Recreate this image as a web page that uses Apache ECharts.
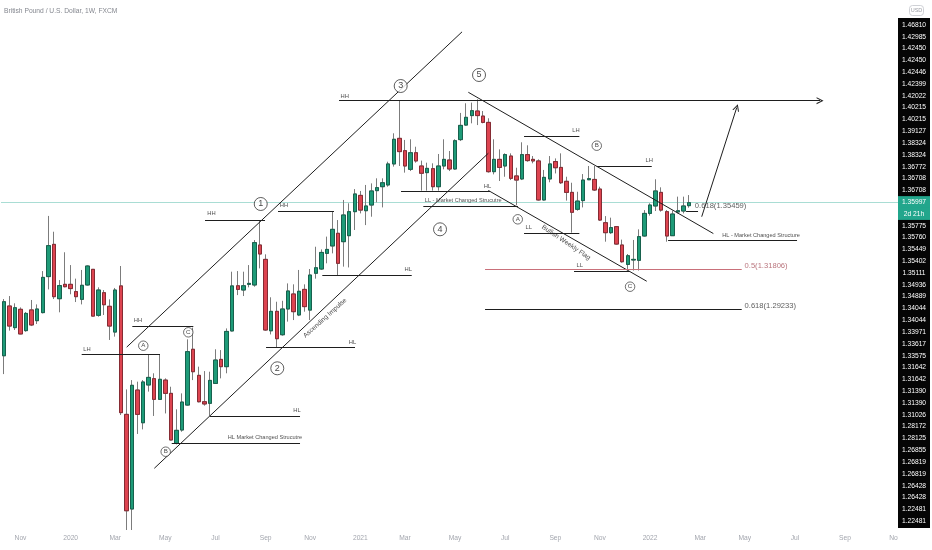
<!DOCTYPE html>
<html><head><meta charset="utf-8">
<script src="https://cdn.jsdelivr.net/npm/echarts@6/dist/echarts.min.js"></script>
<style>html,body{margin:0;padding:0;background:#fff}#c{width:932px;height:550px}</style>
</head><body><div id="c"></div>
<script>
// ---- candle data (weekly GBP/USD) ----
const openP = [1.2631,1.2946,1.2809,1.2925,1.2790,1.2921,1.2853,1.2904,1.3132,1.3336,1.2992,1.3083,1.3083,1.3037,1.2988,1.3079,1.3178,1.2887,1.3030,1.2944,1.2781,1.3073,1.2260,1.1661,1.2414,1.2207,1.2446,1.2486,1.2355,1.2477,1.2393,1.2077,1.2161,1.2319,1.2672,1.2507,1.2340,1.2330,1.2456,1.2608,1.2562,1.2788,1.3074,1.3047,1.3083,1.3079,1.3332,1.3241,1.2789,1.2912,1.2764,1.2927,1.3022,1.2889,1.3051,1.2920,1.3153,1.3180,1.3279,1.3326,1.3406,1.3353,1.3391,1.3543,1.3646,1.3549,1.3585,1.3676,1.3701,1.3712,1.3845,1.4007,1.3929,1.3811,1.3916,1.3832,1.3790,1.3815,1.3701,1.3832,1.3870,1.3813,1.3999,1.4091,1.4151,1.4180,1.4148,1.4108,1.3796,1.3874,1.3832,1.3895,1.3769,1.3750,1.3904,1.3874,1.3864,1.3617,1.3750,1.3860,1.3823,1.3735,1.3665,1.3558,1.3613,1.3745,1.3747,1.3686,1.3473,1.3410,1.3448,1.3332,1.3209,1.3237,1.3235,1.3389,1.3532,1.3579,1.3665,1.3543,1.3391,1.3541,1.3547,1.3581];
const closeP = [1.2973,1.2819,1.2935,1.2769,1.2899,1.2826,1.2927,1.3127,1.3328,1.3005,1.3075,1.3068,1.3056,1.3005,1.3077,1.3199,1.2882,1.3047,1.2954,1.2819,1.3047,1.2271,1.1650,1.2444,1.2260,1.2465,1.2494,1.2355,1.2482,1.2393,1.2098,1.2159,1.2338,1.2657,1.2530,1.2340,1.2326,1.2475,1.2604,1.2562,1.2785,1.3073,1.3051,1.3074,1.3089,1.3347,1.3275,1.2794,1.2912,1.2739,1.2927,1.3041,1.2910,1.3039,1.2942,1.3142,1.3188,1.3285,1.3304,1.3431,1.3216,1.3522,1.3543,1.3655,1.3553,1.3579,1.3674,1.3695,1.3726,1.3845,1.4001,1.3923,1.3832,1.3916,1.3864,1.3786,1.3817,1.3701,1.3832,1.3874,1.3813,1.3992,1.4089,1.4140,1.4182,1.4151,1.4108,1.3796,1.3874,1.3823,1.3904,1.3754,1.3743,1.3904,1.3866,1.3864,1.3617,1.3760,1.3845,1.3821,1.3726,1.3665,1.3539,1.3610,1.3743,1.3752,1.3680,1.3490,1.3410,1.3442,1.3338,1.3226,1.3264,1.3241,1.3385,1.3532,1.3585,1.3674,1.3553,1.3389,1.3528,1.3549,1.3579,1.3600];
const lowP = [1.2515,1.2790,1.2794,1.2767,1.2783,1.2819,1.2832,1.2899,1.3051,1.2990,1.2906,1.3064,1.3020,1.2971,1.2956,1.3075,1.2880,1.2878,1.2889,1.2731,1.2752,1.2256,1.1409,1.1466,1.2136,1.2165,1.2404,1.2250,1.2351,1.2266,1.2096,1.2070,1.2150,1.2315,1.2477,1.2336,1.2315,1.2250,1.2454,1.2488,1.2520,1.2785,1.3015,1.3009,1.3064,1.3068,1.3184,1.2789,1.2766,1.2682,1.2758,1.2847,1.2857,1.2882,1.2910,1.2857,1.3119,1.3174,1.3216,1.3279,1.3142,1.3195,1.3190,1.3427,1.3532,1.3458,1.3511,1.3602,1.3570,1.3701,1.3828,1.3832,1.3790,1.3800,1.3853,1.3676,1.3676,1.3676,1.3676,1.3811,1.3800,1.3809,1.3990,1.4087,1.4102,1.4091,1.4102,1.3790,1.3779,1.3737,1.3764,1.3743,1.3583,1.3743,1.3859,1.3849,1.3613,1.3613,1.3729,1.3785,1.3718,1.3613,1.3410,1.3549,1.3570,1.3743,1.3674,1.3484,1.3353,1.3402,1.3334,1.3220,1.3174,1.3170,1.3170,1.3385,1.3518,1.3547,1.3543,1.3353,1.3389,1.3532,1.3532,1.3568];
const highP = [1.2990,1.3009,1.2963,1.2937,1.2908,1.2984,1.2956,1.3167,1.3516,1.3416,1.3110,1.3286,1.3205,1.3119,1.3174,1.3203,1.3180,1.3064,1.3047,1.2988,1.3060,1.3199,1.2418,1.2477,1.2467,1.2477,1.2642,1.2520,1.2642,1.2488,1.2435,1.2292,1.2393,1.2735,1.2809,1.2562,1.2534,1.2530,1.2672,1.2667,1.2804,1.3163,1.3167,1.3163,1.3205,1.3363,1.3490,1.3273,1.3001,1.2973,1.2979,1.3089,1.3083,1.3174,1.3083,1.3180,1.3321,1.3304,1.3385,1.3543,1.3490,1.3617,1.3596,1.3686,1.3674,1.3712,1.3722,1.3754,1.3754,1.3859,1.4039,1.4246,1.3997,1.4001,1.3954,1.3866,1.3853,1.3849,1.3908,1.4001,1.3927,1.4001,1.4168,1.4229,1.4233,1.4254,1.4180,1.4134,1.4001,1.3937,1.3912,1.3912,1.3821,1.3982,1.3963,1.3895,1.3874,1.3807,1.3895,1.3880,1.3912,1.3764,1.3726,1.3669,1.3781,1.3832,1.3832,1.3701,1.3515,1.3505,1.3452,1.3366,1.3275,1.3364,1.3431,1.3553,1.3596,1.3748,1.3697,1.3553,1.3549,1.3638,1.3638,1.3648];
const lastPrice = 1.35997;
const firstWeek = '2019-10-14';
const weekCount = 161;

// ---- right price-scale tags (drawing prices, top to bottom) ----
const axisTags = ['1.46810','1.42985','1.42450','1.42450','1.42446','1.42399','1.42022','1.40215','1.40215','1.39127','1.38324','1.38324','1.36772','1.36708','1.36708','1.35997','2d 21h','1.35775','1.35760','1.35449','1.35402','1.35111','1.34936','1.34889','1.34044','1.34044','1.33971','1.33617','1.33575','1.31642','1.31642','1.31390','1.31390','1.31026','1.28172','1.28125','1.26855','1.26819','1.26819','1.26428','1.26428','1.22481','1.22481'];

// ---- drawings, in (bar index, price) ----
const levelLines = [
  [13.98, 28.04, 1.26428], [23.07, 34.02, 1.28150], [37.02, 53.17, 1.22481],
  [30.14, 53.17, 1.20744], [36.12, 46.89, 1.34912], [49.22, 59.27, 1.35425],
  [47.07, 63.04, 1.26819], [57.17, 73.22, 1.31390], [71.30, 87.27, 1.36708],
  [75.30, 92.30, 1.35775], [93.38, 103.31, 1.40215], [106.43, 116.30, 1.38324],
  [93.38, 103.31, 1.34044], [102.35, 112.41, 1.31642], [119.23, 142.38, 1.33617],
  [86.38, 132.45, 1.29233], [122.46, 124.61, 1.35459]
];
const fibHalfLine = [[86.38, 132.45, 1.31806]];
const trendLines = [
  [22.06, 1.26855, 82.25, 1.46810], [27.02, 1.19187, 86.97, 1.39127],
  [83.38, 1.42985, 127.36, 1.34044], [86.97, 1.36772, 115.40, 1.31026]
];
const arrowLines = [[60.17, 1.42450, 146.51, 1.42450], [125.27, 1.35111, 131.56, 1.42022]];
const waveMarks = [
  [46.12, 1.35915, '1'], [49.09, 1.25516, '2'], [71.24, 1.43383, '3'],
  [78.30, 1.34313, '4'], [85.30, 1.44079, '5']
];
const letterMarks = [
  [25.04, 1.26946, 'A'], [33.12, 1.27794, 'C'], [29.06, 1.20238, 'B'],
  [92.25, 1.34946, 'A'], [106.43, 1.39605, 'B'], [112.41, 1.30681, 'C']
];
const shortNotes = [
  [60.35, 1.4275, 'HH'], [23.25, 1.28529, 'HH'], [14.16, 1.26693, 'LH'],
  [36.42, 1.35326, 'HH'], [49.45, 1.35851, 'HH'], [51.86, 1.22877, 'HL'],
  [61.84, 1.27161, 'HL'], [71.84, 1.31782, 'HL'], [86.07, 1.37054, 'HL'],
  [101.94, 1.40598, 'LH'], [115.10, 1.38700, 'LH'], [93.56, 1.34415, 'LL'],
  [102.71, 1.32010, 'LL']
];
const longNotes = [
  [40.12, 1.21149, 'HL Market Changed Strucutre'],
  [75.48, 1.36124, 'LL - Market Changed Strucutre'],
  [128.86, 1.33953, 'HL - Market Changed Structure']
];
const fibNotes = [
  [132.87, 1.31991, '0.5(1.31806)', 'red'],
  [132.87, 1.29459, '0.618(1.29233)', 'dark'],
  [123.95, 1.35788, '0.618(1.35459)', 'dark']
];
const slantNotes = [
  [57.66, 1.28700, 'Ascending Impulse', 42],
  [100.92, 1.33478, 'Bullish Weekly Flag', -34]
];

// ---- build ----
const MONTHS = ['Jan','Feb','Mar','Apr','May','Jun','Jul','Aug','Sep','Oct','Nov','Dec'];
const weeks = [];
(function(){
  const t0 = Date.parse(firstWeek + 'T00:00:00Z');
  for (let i = 0; i < weekCount; i++) {
    weeks.push(new Date(t0 + i * 7 * 86400000).toISOString().slice(0, 10));
  }
})();
function isTickWeek(v){
  const d = new Date(v + 'T00:00:00Z');
  return d.getUTCDate() <= 7 && d.getUTCMonth() % 2 === 0;
}
function tickText(v){
  const d = new Date(v + 'T00:00:00Z');
  return d.getUTCMonth() === 0 ? String(d.getUTCFullYear()) : MONTHS[d.getUTCMonth()];
}

const full = openP.map((o, i) => [o, closeP[i], lowP[i], highP[i]]);
const bodies = openP.map((o, i) => [o, closeP[i], Math.min(o, closeP[i]), Math.max(o, closeP[i])]);

const FONT = 'Liberation Sans, Arial, sans-serif';
const INK = '#1e1e1e';
const segs = levelLines.map(l => ({coords: [[l[0], l[2]], [l[1], l[2]]]}))
  .concat(trendLines.map(t => ({coords: [[t[0], t[1]], [t[2], t[3]]]})));

const chart = echarts.init(document.getElementById('c'), null, {renderer: 'canvas'});
chart.setOption({
  animation: false,
  backgroundColor: '#ffffff',
  title: {
    text: 'British Pound / U.S. Dollar, 1W, FXCM', left: 4, top: 8, padding: 0,
    textStyle: {fontSize: 6.7, fontWeight: 'normal', color: '#84878f', fontFamily: FONT}
  },
  grid: [
    {left: 1, right: 34, top: 0, bottom: 20},
    {left: 898, width: 32, top: 19, height: 508, show: false}
  ],
  xAxis: [
    {type: 'category', gridIndex: 0, data: weeks, boundaryGap: true, z: 10,
     axisLine: {show: false}, axisTick: {show: false}, splitLine: {show: false},
     axisLabel: {interval: (idx, v) => isTickWeek(v), formatter: v => tickText(v),
                 color: '#a3a6ae', fontSize: 6.7, margin: 4.5, fontFamily: FONT}},
    {type: 'value', gridIndex: 0, min: -0.5, max: weekCount - 0.5, show: false},
    {type: 'value', gridIndex: 1, show: false}
  ],
  yAxis: [
    {type: 'value', gridIndex: 0, min: 1.15282, max: 1.48826, show: false, scale: true},
    {type: 'category', gridIndex: 1, data: axisTags, inverse: true, position: 'left', z: 10,
     axisLine: {show: false}, axisTick: {show: false}, splitLine: {show: false},
     axisLabel: {interval: 0, margin: -16, align: 'center', color: '#ffffff', fontSize: 6.7, fontFamily: FONT,
       formatter: (v, i) => (i === 15 || i === 16) ? '{g|' + v + '}' : v,
       rich: {g: {backgroundColor: '#22a68c', color: '#ffffff', width: 32, height: 12, lineHeight: 12,
                  align: 'center', fontSize: 6.7, fontFamily: FONT}}}}
  ],
  graphic: [
    {type: 'rect', z: 8, shape: {x: 0, y: 530, width: 898, height: 20}, style: {fill: '#ffffff'}},
    {type: 'rect', z: 8, shape: {x: 898, y: 18, width: 32, height: 510}, style: {fill: '#050505'}},
    {type: 'rect', z: 11, shape: {x: 898, y: 529, width: 34, height: 21}, style: {fill: '#ffffff'}},
    {type: 'rect', z: 8, shape: {x: 909.5, y: 5.5, width: 14, height: 10, r: 3},
     style: {fill: 'none', stroke: '#c3c5cb', lineWidth: 0.8}},
    {type: 'text', z: 9, x: 916.5, y: 10.5,
     style: {text: 'USD', fill: '#9a9ca3', fontSize: 5.5, fontFamily: FONT, align: 'center', verticalAlign: 'middle'}}
  ],
  series: [
    {type: 'lines', coordinateSystem: 'cartesian2d', xAxisIndex: 1, yAxisIndex: 0, silent: true, z: 1,
     data: [{coords: [[-0.5, lastPrice], [weekCount - 0.5, lastPrice]]}],
     lineStyle: {color: '#a9ddd4', width: 1, opacity: 1}},
    {type: 'candlestick', xAxisIndex: 0, yAxisIndex: 0, data: full, barWidth: '72%', silent: true, z: 2,
     itemStyle: {color: '#7c7c7c', color0: '#7c7c7c', borderColor: '#7c7c7c', borderColor0: '#7c7c7c', borderWidth: 1}},
    {type: 'candlestick', xAxisIndex: 0, yAxisIndex: 0, data: bodies, barWidth: '72%', silent: true, z: 3,
     itemStyle: {color: '#1e9b78', color0: '#dd4450', borderColor: '#17614d', borderColor0: '#862b33', borderWidth: 1}},
    {type: 'lines', coordinateSystem: 'cartesian2d', xAxisIndex: 1, yAxisIndex: 0, silent: true, z: 4,
     data: segs, lineStyle: {color: INK, width: 1, opacity: 1}},
    {type: 'lines', coordinateSystem: 'cartesian2d', xAxisIndex: 1, yAxisIndex: 0, silent: true, z: 4,
     data: fibHalfLine.map(l => ({coords: [[l[0], l[2]], [l[1], l[2]]]})),
     lineStyle: {color: '#c9707a', width: 1, opacity: 1}},
    {type: 'lines', coordinateSystem: 'cartesian2d', xAxisIndex: 1, yAxisIndex: 0, silent: true, z: 4,
     symbol: ['none', 'path://M0,10 L5,0 L10,10 L8.4,10 L5,3.2 L1.6,10 Z'], symbolSize: [7, 7],
     data: arrowLines.map(t => ({coords: [[t[0], t[1]], [t[2], t[3]]]})),
     lineStyle: {color: INK, width: 1, opacity: 1}},
    {type: 'scatter', xAxisIndex: 1, yAxisIndex: 0, silent: true, z: 6, symbol: 'circle', symbolSize: 13,
     data: waveMarks.map(m => [m[0], m[1], m[2]]),
     itemStyle: {color: '#ffffff', borderColor: INK, borderWidth: 0.9},
     label: {show: true, position: 'inside', formatter: p => p.value[2], color: '#111', fontSize: 9, fontFamily: FONT}},
    {type: 'scatter', xAxisIndex: 1, yAxisIndex: 0, silent: true, z: 6, symbol: 'circle', symbolSize: 9.5,
     data: letterMarks.map(m => [m[0], m[1], m[2]]),
     itemStyle: {color: '#ffffff', borderColor: INK, borderWidth: 0.8},
     label: {show: true, position: 'inside', formatter: p => p.value[2], color: '#111', fontSize: 6.2, fontFamily: FONT}},
    {type: 'scatter', xAxisIndex: 1, yAxisIndex: 0, silent: true, z: 6, symbolSize: 1,
     data: shortNotes.map(m => [m[0], m[1], m[2]]), itemStyle: {color: 'rgba(0,0,0,0)'},
     label: {show: true, position: 'right', distance: 0, formatter: p => p.value[2], color: '#222', fontSize: 5.8, fontFamily: FONT}},
    {type: 'scatter', xAxisIndex: 1, yAxisIndex: 0, silent: true, z: 6, symbolSize: 1,
     data: longNotes.map(m => [m[0], m[1], m[2]]), itemStyle: {color: 'rgba(0,0,0,0)'},
     label: {show: true, position: 'right', distance: 0, formatter: p => p.value[2], color: '#222', fontSize: 5.6, fontFamily: FONT}},
    {type: 'scatter', xAxisIndex: 1, yAxisIndex: 0, silent: true, z: 6, symbolSize: 1,
     data: fibNotes.map(m => ({value: [m[0], m[1], m[2]],
       label: {color: m[3] === 'red' ? '#a8505b' : '#333'}})), itemStyle: {color: 'rgba(0,0,0,0)'},
     label: {show: true, position: 'right', distance: 0, formatter: p => p.value[2], fontSize: 7.6, fontFamily: FONT}},
    {type: 'scatter', xAxisIndex: 1, yAxisIndex: 0, silent: true, z: 6, symbolSize: 1,
     data: slantNotes.map(m => ({value: [m[0], m[1], m[2]], label: {rotate: m[3]}})), itemStyle: {color: 'rgba(0,0,0,0)'},
     label: {show: true, position: 'inside', formatter: p => p.value[2], color: '#222', fontSize: 6.6, fontFamily: FONT}}
  ]
});
</script></body></html>
